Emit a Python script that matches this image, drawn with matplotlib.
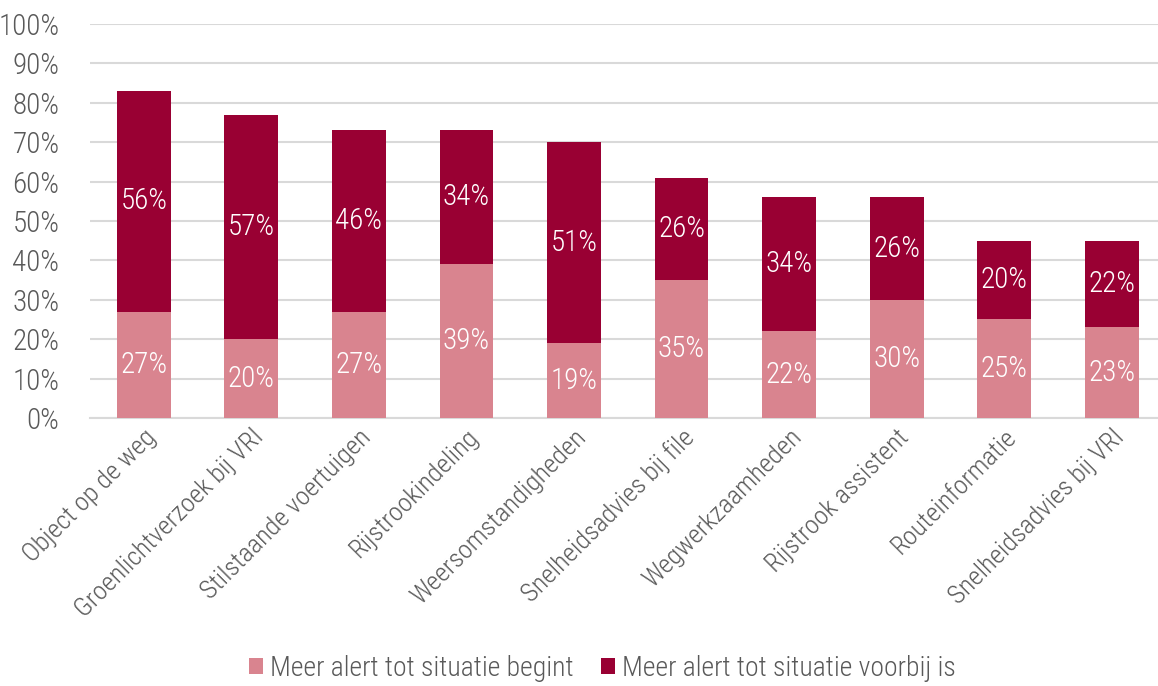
import matplotlib.pyplot as plt
import numpy as np

categories = ["Object op de weg", "Groenlichtverzoek bij VRI", "Stilstaande voertuigen",
              "Rijstrookindeling", "Weersomstandigheden", "Snelheidsadvies bij file",
              "Wegwerkzaamheden", "Rijstrook assistent", "Routeinformatie",
              "Snelheidsadvies bij VRI"]
begint = [27, 20, 27, 39, 19, 35, 22, 30, 25, 23]
voorbij = [56, 57, 46, 34, 51, 26, 34, 26, 20, 22]
series_names = ["Meer alert tot situatie begint", "Meer alert tot situatie voorbij is"]

plt.rcParams['font.family'] = ['Roboto Condensed', 'Roboto', 'DejaVu Sans']
plt.rcParams['font.weight'] = 'light'

light = "#d9848f"
dark = "#990033"
grey_text = "#595959"

fig = plt.figure(figsize=(11.58, 6.86), dpi=100)
ax = fig.add_axes([0.0777, 0.3907, 0.9223, 0.5743])

x = np.arange(len(categories))
b1 = ax.bar(x, begint, width=0.5, color=light, label=series_names[0], zorder=3)
b2 = ax.bar(x, voorbij, width=0.5, bottom=begint, color=dark, label=series_names[1], zorder=3)

# value labels in the middle of each segment
for i in range(len(categories)):
    ax.text(x[i], begint[i] / 2, "%d%%" % begint[i], ha="center", va="center",
            color="white", fontsize=21, zorder=4)
    ax.text(x[i], begint[i] + voorbij[i] / 2, "%d%%" % voorbij[i], ha="center", va="center",
            color="white", fontsize=21, zorder=4)

ax.set_ylim(0, 100)
ax.set_xlim(-0.5, 9.43)
ax.set_yticks(range(0, 101, 10))
ax.set_yticklabels(["%d%%" % v for v in range(0, 101, 10)])
ax.yaxis.grid(True, color="#d9d9d9", linewidth=1.5, zorder=0)
ax.set_axisbelow(True)

ax.set_xticks(x)
ax.set_xticklabels(categories, rotation=45, ha="right", rotation_mode="anchor")
ax.tick_params(axis="both", length=0, labelcolor=grey_text)
ax.tick_params(axis="x", pad=5, labelsize=19)
ax.tick_params(axis="y", pad=22, labelsize=21)

for side in ["top", "right", "left"]:
    ax.spines[side].set_visible(False)
ax.spines["bottom"].set_color("#d9d9d9")
ax.spines["bottom"].set_linewidth(1.5)

leg = fig.legend(handles=[b1, b2], loc="lower center", bbox_to_anchor=(0.52, -0.03), ncol=2,
                 frameon=False, fontsize=20, handlelength=0.5, handleheight=0.5,
                 columnspacing=1.0, handletextpad=0.25)
for t in leg.get_texts():
    t.set_color(grey_text)

fig.savefig("out.png", dpi=100)
